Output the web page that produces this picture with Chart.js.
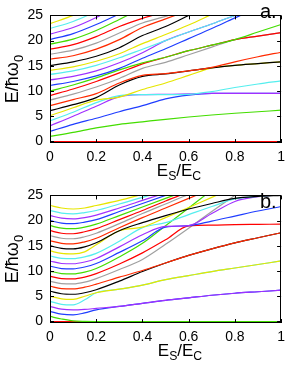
<!DOCTYPE html>
<html><head><meta charset="utf-8">
<script src="https://cdn.jsdelivr.net/npm/chart.js@4"></script>
<style>
html,body{margin:0;padding:0;background:#fff;}
#wrap{position:relative;width:291px;height:365px;overflow:hidden;font-family:"Liberation Sans",Arial,sans-serif;}
canvas{position:absolute;left:0;}
.t{position:absolute;color:#000;white-space:nowrap;line-height:1;}
.t sub{font-size:0.72em;vertical-align:baseline;position:relative;top:0.35em;}
.yt{transform:rotate(-90deg);transform-origin:center center;font-size:18px;width:80px;height:18px;text-align:center;}
.xt{font-size:17px;width:80px;text-align:center;}
.lab{font-size:20px;}
</style></head><body>
<div id="wrap">
<canvas id="ca" width="291" height="180" style="top:0"></canvas>
<canvas id="cb" width="291" height="185" style="top:180px"></canvas>
<div class="t yt" style="left:-28px;top:70px;">E/ħω<sub>0</sub></div>
<div class="t yt" style="left:-28px;top:250px;">E/ħω<sub>0</sub></div>
<div class="t xt" style="left:139px;top:162px;">E<sub>S</sub>/E<sub>C</sub></div>
<div class="t xt" style="left:140px;top:342px;">E<sub>S</sub>/E<sub>C</sub></div>
<div class="t lab" style="left:260px;top:1px;">a.</div>
<div class="t lab" style="left:260px;top:191px;">b.</div>
</div>
<script>
// ---- data ----
const X_TICKS = [0, 0.2, 0.4, 0.6, 0.8, 1];
const X_TICK_LABELS = ['0', '0.2', '0.4', '0.6', '0.8', '1'];
const Y_TICKS = [0, 5, 10, 15, 20, 25];
const Y_TICK_LABELS = ['0', '5', '10', '15', '20', '25'];

// panel a: E_S/E_C sample points
const XA = [0, 0.1, 0.2, 0.3, 0.4, 0.5, 0.6, 0.7, 0.8, 0.9, 1.0];
const a0  = [0,0,0,0,0,0,0,0,0,0,0];
const a1  = [1.0,1.8,2.7,3.4,3.9,4.4,4.85,5.25,5.6,5.9,6.2];
const a2  = [2.0,3.4,4.6,5.9,7.1,8.45,9.2,9.55,9.55,9.55,9.55];
const a3  = [3.1,5.0,7.0,8.9,9.3,9.35,9.45,9.55,9.55,9.55,9.55];
const a4  = [4.1,5.8,7.7,9.1,9.3,9.3,9.35,9.9,10.7,11.4,12.0];
const a5  = [5.1,6.7,8.2,8.8,10.3,11.6,13.1,14.6,15.1,15.45,15.8];
const a6  = [6.1,7.3,8.7,11.2,12.9,13.4,14.0,14.6,15.1,15.45,15.8];
const a7  = [7.1,8.3,9.5,11.6,13.1,13.45,14.0,14.7,15.8,16.8,17.7];
const a8  = [8.2,9.4,10.8,12.5,14.5,15.7,17.2,18.7,20.2,20.9,21.6];
const a9  = [9.1,10.4,11.9,13.6,15.4,16.7,18.0,19.1,20.2,20.9,21.6];
const a10 = [10.0,11.2,12.6,14.2,15.6,16.7,18.0,19.1,20.2,21.7,23.2];
const a11 = [11.1,11.9,13.0,14.5,16.5,18.4,20.4,22.4,24.5,26.5,28.5];
const a12 = [12.2,12.9,14.0,15.6,17.6,20.0,21.7,23.3,25.0,26.7,28.3];
const a13 = [13.3,14.0,15.1,16.6,18.3,20.0,21.7,23.3,25.0,26.7,28.3];
const a14 = [14.1,14.8,15.9,17.4,19.4,21.2,23.1,25.2,27.3,29.4,31.5];
const a15 = [15.05,15.8,16.9,18.6,21.0,22.8,25.0,27.2,29.4,31.6,33.8];
const a16 = [16.3,17.0,18.3,20.2,22.6,24.3,26.0,27.7,29.4,31.1,32.8];
const a17 = [17.3,18.1,19.5,21.5,23.5,24.8,26.0,27.5,29,30.5,32];
const a18 = [18.3,19.2,20.8,22.8,24.4,25.8,27.5,29,30.5,32,33.5];
const a19 = [19.3,20.3,22.0,24.2,26.5,28.8,31,33,35,37,39];
const a20 = [20.2,21.4,23.2,25.3,27.5,29.7,32,34,36,38,40];
const a21 = [21.3,22.6,24.6,27.0,29.4,31.8,34,36,38,40,42];
const a22 = [22.4,23.8,25.8,28.0,30.3,32.6,35,37,39,41,43];
const a23 = [23.35,25.0,27.0,29.2,31.4,33.6,36,38,40,42,44];

// panel b
const XB = [0, 0.05, 0.1, 0.15, 0.2, 0.3, 0.4, 0.5, 0.6, 0.7, 0.8, 0.9, 1.0];
const b0  = [0,0,0,0,0,0,0,0,0,0,0,0,0];
const b1  = [1,0.5,0.12,0.02,0,0,0,0,0,0,0,0,0];
const b2  = [2,1.45,1.3,1.7,2.3,3.0,3.6,4.2,4.7,5.2,5.6,5.9,6.2];
const b3  = [3,2.45,2.3,2.4,2.6,3.0,3.6,4.2,4.7,5.2,5.6,5.9,6.2];
const b4  = [4,3.4,3.3,4.3,5.7,6.4,7.2,8.3,9.1,9.9,10.6,11.3,12.0];
const b5  = [5,4.5,4.4,5.0,5.7,6.4,7.2,8.3,9.1,9.9,10.6,11.3,12.0];
const b6  = [6,5.5,5.4,5.7,6.3,8.0,9.9,11.6,13.1,14.4,15.6,16.6,17.6];
const b7  = [7,6.5,6.45,6.8,7.4,8.8,10.1,11.6,13.1,14.4,15.6,16.6,17.6];
const b8  = [8,7.5,7.45,7.8,8.5,10.3,12.3,15.3,18.5,21.8,25.0,28,31];
const b9  = [9,8.5,8.45,8.8,9.5,11.4,13.6,16.2,18.95,19.1,19.2,19.25,19.3];
const b10 = [10,9.5,9.45,9.8,10.5,12.8,15.5,19.0,22.5,26.0,29,32,35];
const b11 = [11,10.5,10.45,10.8,11.5,13.7,16.0,18.7,19.0,19.9,20.9,21.9,22.8];
const b12 = [12,11.5,11.45,11.8,12.5,14.8,17.2,18.85,19.0,21.4,23.8,24.75,25.2];
const b13 = [13,12.5,12.45,12.8,13.5,15.9,18.6,19.6,21.2,22.8,24.3,24.8,25.2];
const b14 = [14,13.5,13.4,13.8,15.2,18.0,18.7,20.6,22.6,24.6,26.6,28,30];
const b15 = [15,14.5,14.4,14.8,15.6,18.0,19.6,21.0,22.3,23.4,24.4,24.8,25.0];
const b16 = [16,15.5,15.4,15.8,16.5,18.6,20.6,22.5,24.4,26.3,28,30,31];
const b17 = [17,16.5,16.4,16.8,17.5,19.4,21.4,23.3,25.2,27,29,30,31];
const b18 = [18,17.5,17.4,17.8,18.4,20.2,22.0,23.9,25.7,27.5,29,30,31];
const b19 = [19,18.5,18.4,18.7,19.3,21.0,22.7,24.4,26.1,27.8,29,30,31];
const b20 = [20,19.5,19.4,19.7,20.2,21.8,23.4,25.0,26.6,28,29,30,31];
const b21 = [21,20.5,20.35,20.6,21.1,22.5,24.0,25.5,27,28,29,30,31];
const b22 = [22,21.5,21.35,21.6,22.0,23.3,24.6,26.0,27.3,28.5,29.5,30.5,31.5];
const b23 = [23,22.5,22.3,22.5,23.0,24.0,25.2,26.4,27.6,28.8,30,31,32];

const SERIES_A = [a0,a1,a2,a3,a4,a5,a6,a7,a8,a9,a10,a11,a12,a13,a14,a15,a16,a17,a18,a19,a20,a21,a22,a23];
const SERIES_B = [b0,b1,b2,b3,b4,b5,b6,b7,b8,b9,b10,b11,b12,b13,b14,b15,b16,b17,b18,b19,b20,b21,b22,b23];

// line-type colour cycle
const COLORS = ['#ff0000','#44dd00','#1f3dff','#a030ff','#55eeee','#e6e600','#000000','#ff2a00','#a0a0a0'];

// ---- chart ----
const FONT = {family:'"Liberation Sans", Arial, sans-serif', size:14};
const framePlugin = {
  id:'frame',
  afterDatasetsDraw(chart){
    const {ctx, chartArea:a, scales:{x, y}} = chart;
    ctx.save();
    ctx.strokeStyle = '#000'; ctx.lineWidth = 1;
    ctx.beginPath();
    const L = 4;
    x.ticks.forEach(t => {
      const px = Math.round(x.getPixelForValue(t.value)) + 0.5;
      ctx.moveTo(px, a.bottom); ctx.lineTo(px, a.bottom - L);
      ctx.moveTo(px, a.top); ctx.lineTo(px, a.top + L);
    });
    y.ticks.forEach(t => {
      const py = Math.round(y.getPixelForValue(t.value)) + 0.5;
      ctx.moveTo(a.left, py); ctx.lineTo(a.left + L, py);
      ctx.moveTo(a.right, py); ctx.lineTo(a.right - L, py);
    });
    ctx.stroke();
    ctx.strokeRect(Math.round(a.left) + 0.5, Math.round(a.top) + 0.5, Math.round(a.right - a.left) - 1, Math.round(a.bottom - a.top) - 1);
    ctx.restore();
  }
};

function makeChart(id, xs, series, padTop, xHeight){
  const datasets = series.map((vals, n) => ({
    data: xs.map((x, i) => ({x: x, y: vals[i]})),
    borderColor: COLORS[n % 9],
    borderWidth: 1.2,
    pointRadius: 0,
    fill: false,
    cubicInterpolationMode: 'monotone',
    order: 100 - n
  }));
  return new Chart(document.getElementById(id), {
    type: 'line',
    data: {datasets},
    options: {
      responsive: false, animation: false, devicePixelRatio: 1,
      layout: {padding: {left: 0, right: 2, top: padTop, bottom: 0}},
      plugins: {legend: {display: false}, tooltip: {enabled: false}},
      scales: {
        x: {type: 'linear', min: 0, max: 1,
            afterBuildTicks: s => { s.ticks = X_TICKS.map(v => ({value: v})); },
            afterFit: s => { s.height = xHeight; },
            ticks: {callback: (v) => X_TICK_LABELS[X_TICKS.indexOf(v)], font: FONT, color: '#000', padding: 6, maxRotation: 0, autoSkip: false},
            grid: {display: false, drawTicks: false}, border: {display: false}},
        y: {type: 'linear', min: -0.3, max: 25,
            afterBuildTicks: s => { s.ticks = Y_TICKS.map(v => ({value: v})); },
            afterFit: s => { s.width = 50; },
            ticks: {callback: (v) => Y_TICK_LABELS[Y_TICKS.indexOf(v)], font: FONT, color: '#000', padding: 7, autoSkip: false},
            grid: {display: false, drawTicks: false}, border: {display: false}}
      }
    },
    plugins: [framePlugin]
  });
}
makeChart('ca', XA, SERIES_A, 5, 37);
makeChart('cb', XB, SERIES_B, 4.5, 42);
</script>
</body></html>
